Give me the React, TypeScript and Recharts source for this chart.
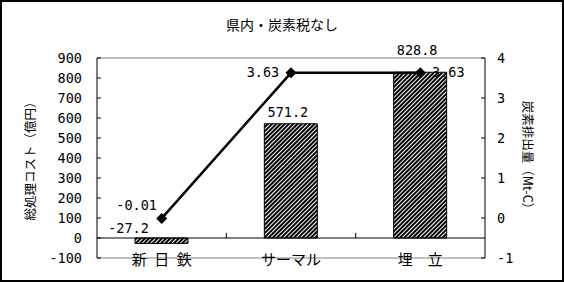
import React from 'react';
import {
  ComposedChart,
  Bar,
  Line,
  XAxis,
  YAxis,
  LabelList,
  ReferenceLine,
} from 'recharts';

// categories, cost (億円) and carbon emissions (Mt-C)
const categories = ['新\u2002日\u2002鉄', 'サーマル', '埋\u3000立'];
const costValues = [-27.2, 571.2, 828.8];
const carbonValues = [-0.01, 3.63, 3.63];
const costTicks = [-100, 0, 100, 200, 300, 400, 500, 600, 700, 800, 900];
const carbonTicks = [-1, 0, 1, 2, 3, 4];

const title = '県内・炭素税なし';
const costTitle = '総処理コスト（億円）';
const carbonTitle = '炭素排出量（Mt-C）';

const data = categories.map((cat, i) => ({
  cat,
  cost: costValues[i],
  carbon: carbonValues[i],
}));

const NUM_FONT = "'DejaVu Sans Mono', 'Noto Sans CJK JP', monospace";
const JP_FONT = "'Noto Sans CJK JP', 'DejaVu Sans', sans-serif";

document.body.style.margin = '0';

// tick label plus a short inward tick mark
const LeftTick = (props: any) => {
  const { x, y, payload } = props;
  return (
    <g>
      <line x1={x + 15} x2={x + 19} y1={y} y2={y} stroke="#000" />
      <text x={x} y={y} textAnchor="end" dominantBaseline="central" fill="#000" fontSize={13.5} fontFamily={NUM_FONT}>
        {payload.value}
      </text>
    </g>
  );
};

const RightTick = (props: any) => {
  const { x, y, payload } = props;
  return (
    <g>
      <line x1={x - 12} x2={x - 16} y1={y} y2={y} stroke="#000" />
      <text x={x} y={y} textAnchor="start" dominantBaseline="central" fill="#000" fontSize={13.5} fontFamily={NUM_FONT}>
        {payload.value}
      </text>
    </g>
  );
};

const CategoryTick = (props: any) => {
  const { x, y, payload } = props;
  return (
    <text x={x} y={y} textAnchor="middle" dominantBaseline="central" fill="#000" fontSize={15} fontFamily={JP_FONT}>
      {payload.value}
    </text>
  );
};

const AxisTitle = ({ viewBox, text, offsetX, rot }: any) => {
  if (!viewBox) return null;
  const cx = viewBox.x + offsetX;
  const cy = viewBox.y + viewBox.height / 2;
  return (
    <text
      x={cx}
      y={cy}
      transform={`rotate(${rot}, ${cx}, ${cy})`}
      textAnchor="middle"
      dominantBaseline="central"
      fill="#000"
      fontSize={12.5}
      fontFamily={JP_FONT}
    >
      {text}
    </text>
  );
};

// zero line acting as the category axis, with ticks between categories
const ZeroAxis = (props: any) => {
  const { x1, x2, y1 } = props;
  if (x1 == null) return null;
  const n = categories.length;
  const step = (x2 - x1) / n;
  const marks = [];
  for (let k = 1; k < n; k++) {
    const x = x1 + step * k;
    marks.push(<line key={k} x1={x} x2={x} y1={y1} y2={y1 - 5} stroke="#000" />);
  }
  return (
    <g>
      <line x1={x1} x2={x2} y1={y1} y2={y1} stroke="#000" />
      {marks}
    </g>
  );
};

const Diamond = (props: any) => {
  const { cx, cy } = props;
  if (cx == null || cy == null) return null;
  const r = 5.5;
  return (
    <polygon
      points={`${cx},${cy - r} ${cx + r},${cy} ${cx},${cy + r} ${cx - r},${cy}`}
      fill="#000"
    />
  );
};

// value labels for the bars, nudged per category
const barLabelOffsets = [
  { dx: -33, dy: -10 },
  { dx: -3, dy: -12 },
  { dx: -3, dy: -22 },
];

const BarValueLabel = (props: any) => {
  const { x, y, width, height, value, index } = props;
  const top = Math.min(y, y + height);
  const off = barLabelOffsets[index] || { dx: 0, dy: -10 };
  return (
    <text
      x={x + width / 2 + off.dx}
      y={top + off.dy}
      textAnchor="middle"
      dominantBaseline="central"
      fill="#000"
      fontSize={13.5}
      fontFamily={NUM_FONT}
    >
      {value}
    </text>
  );
};

const lineLabelOffsets = [
  { dx: -25, dy: -13 },
  { dx: -28, dy: -1 },
  { dx: 28, dy: -1 },
];

const LineValueLabel = (props: any) => {
  const { x, y, value, index } = props;
  const off = lineLabelOffsets[index] || { dx: 0, dy: -10 };
  return (
    <text
      x={x + off.dx}
      y={y + off.dy}
      textAnchor="middle"
      dominantBaseline="central"
      fill="#000"
      fontSize={13.5}
      fontFamily={NUM_FONT}
    >
      {value}
    </text>
  );
};

export default function App() {
  return (
    <div style={{ position: 'relative', width: 564, height: 282, background: '#fff' }}>
      <div
        style={{
          position: 'absolute',
          top: 16,
          left: 0,
          width: 564,
          textAlign: 'center',
          fontSize: 14,
          lineHeight: '16px',
          fontFamily: JP_FONT,
          color: '#000',
        }}
      >
        {title}
      </div>
      <ComposedChart
        width={564}
        height={282}
        data={data}
        margin={{ top: 58, right: 19, bottom: 0, left: 0 }}
        style={{ position: 'absolute', top: 0, left: 0 }}
      >
        <defs>
          <pattern id="hatch" width="3" height="3" patternUnits="userSpaceOnUse" patternTransform="rotate(45)">
            <rect width="3" height="3" fill="#fff" />
            <rect width="2" height="3" fill="#000" />
          </pattern>
        </defs>
        <XAxis
          dataKey="cat"
          height={24}
          axisLine={false}
          tickLine={false}
          tickSize={0}
          tickMargin={0}
          tick={<CategoryTick />}
          interval={0}
        />
        <YAxis
          yAxisId="cost"
          width={97}
          domain={[-100, 900]}
          ticks={costTicks}
          interval={0}
          axisLine={{ stroke: '#000' }}
          tickLine={false}
          tickSize={0}
          tickMargin={15}
          tick={<LeftTick />}
          label={<AxisTitle text={costTitle} offsetX={29} rot={-90} />}
        />
        <YAxis
          yAxisId="carbon"
          orientation="right"
          width={60}
          domain={[-1, 4]}
          ticks={carbonTicks}
          interval={0}
          axisLine={{ stroke: '#000' }}
          tickLine={false}
          tickSize={0}
          tickMargin={12}
          tick={<RightTick />}
          label={<AxisTitle text={carbonTitle} offsetX={43} rot={90} />}
        />
        {/* plot frame top/bottom */}
        <ReferenceLine yAxisId="cost" y={900} stroke="#808080" />
        <ReferenceLine yAxisId="cost" y={-100} stroke="#808080" />
        <Bar
          yAxisId="cost"
          dataKey="cost"
          barSize={53}
          fill="url(#hatch)"
          stroke="#000"
          strokeWidth={1}
          isAnimationActive={false}
        >
          <LabelList dataKey="cost" content={<BarValueLabel />} />
        </Bar>
        <ReferenceLine yAxisId="cost" y={0} shape={<ZeroAxis />} />
        <Line
          yAxisId="carbon"
          dataKey="carbon"
          stroke="#000"
          strokeWidth={2.5}
          dot={<Diamond />}
          activeDot={false}
          isAnimationActive={false}
        >
          <LabelList dataKey="carbon" content={<LineValueLabel />} />
        </Line>
      </ComposedChart>
      <div
        style={{
          position: 'absolute',
          inset: 0,
          border: '2px solid #000',
          pointerEvents: 'none',
        }}
      />
    </div>
  );
}
